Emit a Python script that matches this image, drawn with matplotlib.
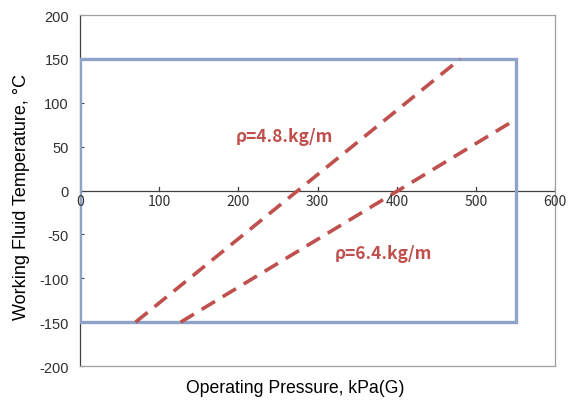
import numpy as np
import matplotlib.pyplot as plt

# operating window (kPa(G), degC)
box_p = [0, 550, 550, 0, 0]
box_t = [-150, -150, 150, 150, -150]

# density lines
p_48 = [70, 480]
t_48 = [-150, 150]
p_64 = [127, 550]
t_64 = [-150, 81]

xticks = [0, 100, 200, 300, 400, 500, 600]
yticks = [-200, -150, -100, -50, 0, 50, 100, 150, 200]

red = '#C0504D'
blue = '#8FA2C8'
kr = ['Noto Sans CJK KR', 'DejaVu Sans']

fig = plt.figure(figsize=(5.76, 4.02), dpi=100)
ax = fig.add_axes([0.139, 0.087, 0.825, 0.873])

ax.plot(box_p, box_t, color=blue, lw=2.4, solid_joinstyle='miter', zorder=3)
ax.plot(p_48, t_48, color=red, lw=2.6, dashes=(4.3, 2.5), zorder=4)
ax.plot(p_64, t_64, color=red, lw=2.6, dashes=(4.3, 2.5), zorder=4)

ax.text(258, 62, 'ρ=4.8.kg/m', color=red, fontsize=12.5, fontweight='bold',
        family=kr, ha='center', va='center')
ax.text(383, -71, 'ρ=6.4.kg/m', color=red, fontsize=12.5, fontweight='bold',
        family=kr, ha='center', va='center')

ax.set_xlim(0, 600)
ax.set_ylim(-200, 200)

# x axis crosses at 0
ax.axhline(0, color='#404040', lw=0.9, zorder=2)
for s in ['top', 'right', 'bottom']:
    ax.spines[s].set_color('#a0a0a0')
    ax.spines[s].set_linewidth(0.9)
ax.spines['left'].set_color('#404040')
ax.spines['left'].set_linewidth(0.9)

ax.set_yticks(yticks)
ax.set_yticklabels([str(v) for v in yticks], family='Liberation Sans', fontsize=10.5, color='#303030')
ax.tick_params(axis='y', direction='in', length=3, color='#404040', pad=8)

ax.set_xticks(xticks)
ax.set_xticklabels([])
ax.tick_params(axis='x', length=0)
for v in xticks:
    ax.plot([v, v], [0, 4], color='#404040', lw=0.9, zorder=2)
    ax.text(v, -12, str(v), ha='center', va='center', fontsize=10,
            family=kr, color='#303030', zorder=5)

ax.set_xlabel('Operating Pressure, kPa(G)', family='Liberation Sans', fontsize=12.7)
ax.set_ylabel('Working Fluid Temperature, °C', family='Liberation Sans', fontsize=13)
ax.xaxis.set_label_coords(0.453, -0.038)
ax.yaxis.set_label_coords(-0.105, 0.484)

fig.savefig('out.png', dpi=100)
